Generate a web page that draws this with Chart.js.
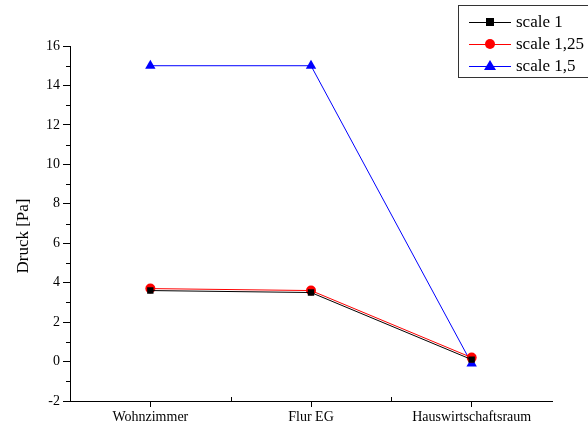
<!DOCTYPE html>
<html>
<head>
<meta charset="utf-8">
<script src="https://cdn.jsdelivr.net/npm/chart.js@4"></script>
<style>
  html, body { margin: 0; padding: 0; background: #fff; }
  #wrap { width: 588px; height: 432px; }
</style>
</head>
<body>
<div id="wrap"><canvas id="chart" width="588" height="432"></canvas></div>
<script>
const rooms = ['Wohnzimmer', 'Flur EG', 'Hauswirtschaftsraum'];
const scale1 = [3.6, 3.5, 0.1];
const scale125 = [3.7, 3.6, 0.2];
const scale15 = [15, 15, -0.1];
const seriesNames = ['scale 1', 'scale 1,25', 'scale 1,5'];
const yTitle = 'Druck [Pa]';

const FONT = 'Liberation Serif, Times New Roman, serif';

// minor ticks, y title and boxed legend, drawn like the original plot
const extras = {
    id: 'extras',
    afterDraw(chart) {
        const ctx = chart.ctx;
        const x = chart.scales.x, y = chart.scales.y;
        ctx.save();
        ctx.strokeStyle = '#000';
        ctx.lineWidth = 1;
        ctx.beginPath();
        for (let v = -1; v < 16; v += 2) {
            const py = Math.round(y.getPixelForValue(v)) + 0.5;
            ctx.moveTo(x.left - 4, py);
            ctx.lineTo(x.left, py);
        }
        for (let i = 0; i < rooms.length - 1; i++) {
            const px = Math.round((x.getPixelForValue(i) + x.getPixelForValue(i + 1)) / 2) + 0.5;
            ctx.moveTo(px, y.bottom);
            ctx.lineTo(px, y.bottom - 4);
        }
        ctx.stroke();

        // y title
        ctx.save();
        ctx.translate(24, 236);
        ctx.rotate(-Math.PI / 2);
        ctx.fillStyle = '#000';
        ctx.font = '17px ' + FONT;
        ctx.textAlign = 'center';
        ctx.textBaseline = 'middle';
        ctx.fillText(yTitle, 0, 0);
        ctx.restore();

        // legend box
        const bx = 458.5, by = 5.5;
        ctx.strokeStyle = '#333';
        ctx.strokeRect(bx, by, 140, 72);
        ctx.font = '17px ' + FONT;
        ctx.textBaseline = 'middle';
        chart.data.datasets.forEach((ds, i) => {
            const ly = 22 + i * 22;
            ctx.strokeStyle = ds.borderColor;
            ctx.beginPath();
            ctx.moveTo(469, ly + 0.5);
            ctx.lineTo(511, ly + 0.5);
            ctx.stroke();
            ctx.fillStyle = ds.backgroundColor;
            ctx.beginPath();
            if (ds.pointStyle === 'rect') {
                ctx.rect(486, ly - 4, 8, 8);
            } else if (ds.pointStyle === 'circle') {
                ctx.arc(490, ly, 5, 0, Math.PI * 2);
            } else {
                ctx.moveTo(490, ly - 6);
                ctx.lineTo(496, ly + 4);
                ctx.lineTo(484, ly + 4);
                ctx.closePath();
            }
            ctx.fill();
            ctx.fillStyle = '#000';
            ctx.fillText(seriesNames[i], 516, ly + 1);
        });
        ctx.restore();
    }
};

function series(label, data, colour, style, radius) {
    return {
        label: label,
        data: data,
        borderColor: colour,
        backgroundColor: colour,
        borderWidth: 1,
        pointStyle: style,
        pointRadius: radius,
        pointHoverRadius: radius,
        pointBorderWidth: 0,
        tension: 0
    };
}

new Chart(document.getElementById('chart').getContext('2d'), {
    type: 'line',
    data: {
        labels: rooms,
        datasets: [
            series(seriesNames[0], scale1, '#000000', 'rect', 4.5),
            series(seriesNames[1], scale125, '#ff0000', 'circle', 5),
            series(seriesNames[2], scale15, '#0000ff', 'triangle', 6)
        ]
    },
    options: {
        responsive: false,
        animation: false,
        layout: { padding: { top: 46, right: 36, left: 0, bottom: 0 } },
        plugins: {
            legend: { display: false },
            tooltip: { enabled: false }
        },
        scales: {
            x: {
                offset: true,
                grid: {
                    offset: false,
                    drawOnChartArea: false,
                    drawTicks: true,
                    tickLength: 6,
                    color: '#000'
                },
                border: { color: '#000', width: 1 },
                ticks: {
                    color: '#000',
                    padding: 2,
                    maxRotation: 0,
                    font: { family: FONT, size: 14 }
                },
                afterFit(scale) { scale.height = 31; }
            },
            y: {
                min: -2,
                max: 16,
                grid: {
                    drawOnChartArea: false,
                    tickLength: 7,
                    color: '#000'
                },
                border: { color: '#000', width: 1 },
                ticks: {
                    stepSize: 2,
                    color: '#000',
                    padding: 3,
                    font: { family: FONT, size: 14 }
                },
                afterFit(scale) { scale.width = 70; }
            }
        }
    },
    plugins: [extras]
});
</script>
</body>
</html>
